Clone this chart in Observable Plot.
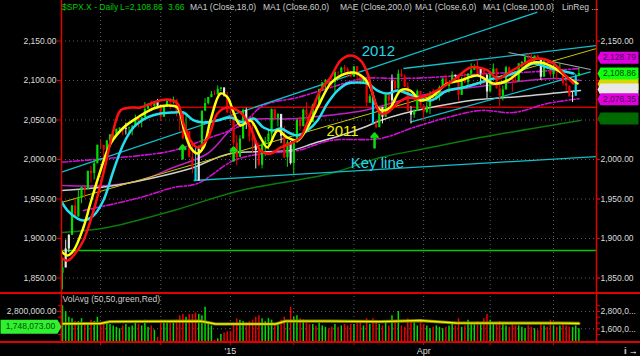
<!DOCTYPE html>
<html><head><meta charset="utf-8">
<script src="https://cdn.jsdelivr.net/npm/d3@7"></script>
<script src="https://cdn.jsdelivr.net/npm/@observablehq/plot@0.6"></script>
<style>
html,body{margin:0;padding:0;background:#000;}
#chart{position:relative;width:640px;height:356px;background:#000;overflow:hidden;font-family:"Liberation Sans",Arial,sans-serif;}
#price{position:absolute;left:0;top:0;}
#vol{position:absolute;left:0;top:292px;}
.hdr{position:absolute;top:2px;font-size:8.5px;line-height:10px;color:#cfcfcf;white-space:pre;}
.hline{position:absolute;left:0;width:640px;height:1.5px;background:#e00000;}
</style></head><body>
<div id="chart">
  <div id="price"></div>
  <div id="vol"></div>
  <div class="hline" style="top:292px"></div>
  <div class="hline" style="top:341px"></div>
  <div id="header"></div>
</div>
<script>
// ---------- DATA ----------
const firstOpen = 1855.95;
const close = [1862.76,1886.76,1904.01,1941.28,1927.11,1950.82,1964.58,1961.63,1985.05,1982.30,1994.65,2018.05,
2017.81,2012.10,2023.57,2031.21,2031.92,2038.26,2039.68,2038.25,2039.33,2039.82,2041.32,2051.80,2048.72,2052.75,2063.50,2069.41,2067.03,2072.83,2067.56,
2053.44,2066.55,2074.33,2071.92,2075.37,2060.31,2059.82,2026.14,2035.33,2002.33,1989.63,1972.74,2012.89,2061.23,2070.65,2078.54,2082.17,2081.88,2088.77,2090.57,2080.35,2058.90,
2058.20,2020.58,2002.61,2025.90,2062.14,2044.81,2028.26,2023.03,2011.27,1992.67,2019.42,2022.55,2032.12,2063.15,2051.82,2057.09,2029.55,2002.16,2021.25,1994.99,
2020.85,2050.03,2041.51,2062.52,2055.47,2046.74,2068.59,2068.53,2088.48,2096.99,2100.34,2099.68,2097.45,2110.30,2109.66,2115.48,2113.86,2110.74,2104.50,
2117.39,2107.78,2098.53,2101.04,2071.26,2079.43,2044.16,2040.24,2065.95,2053.40,2081.19,2074.28,2099.50,2089.27,2108.10,2104.42,2091.50,2061.05,2056.15,2061.02,2086.24,2067.89,
2059.69,2066.96,2080.62,2076.33,2081.90,2091.18,2102.06,2092.43,2095.84,2106.63,2104.99,2081.18,2100.40,2097.29,2107.96,2112.93,2117.69,2108.92,2114.76,2106.85,2085.51,
2108.29,2114.49,2089.46,2080.15,2088.00,2116.10,2105.33,2099.94,2098.48,2121.10,2122.73,2129.20,2127.83,2125.85,2130.82,2126.06,2104.20,2123.48,2120.79,2107.39,
2111.73,2109.60,2114.07,2095.84,2092.83,2079.28,2080.15,2105.20,2108.86];
const high = [1876,1898,1905,1942,1950,1961,1965,1964,1985,1991,1999,2018,
2025,2015,2024,2031,2034,2038,2040,2038,2046,2041,2043,2056,2052,2053,2072,2071,2074,2073,2076,
2067,2068,2076,2077,2079,2075,2061,2059,2056,2032,2018,2017,2017,2061,2077,2078,2086,2087,2093,2091,2088,2085,
2072,2055,2030,2030,2064,2065,2049,2056,2018,2021,2020,2028,2038,2064,2062,2058,2047,2042,2024,2023,
2022,2050,2054,2064,2072,2056,2070,2073,2089,2097,2101,2100,2102,2111,2111,2117,2119,2116,2112,
2117,2115,2107,2104,2100,2082,2076,2050,2066,2066,2081,2080,2107,2098,2113,2114,2107,2097,2067,2063,2088,2084,
2067,2072,2086,2089,2086,2093,2102,2107,2097,2111,2107,2095,2104,2109,2109,2121,2120,2126,2116,2114,2106,
2108,2121,2115,2098,2093,2118,2117,2106,2111,2121,2124,2131,2134,2134,2131,2132,2126,2126,2123,2121,
2120,2117,2121,2112,2101,2093,2085,2108,2115];
const low = [1835,1865,1882,1910,1927,1930,1944,1951,1964,1970,1974,2001,
2014,2001,2014,2015,2026,2030,2035,2030,2031,2034,2030,2041,2040,2040,2054,2064,2065,2066,2064,
2048,2054,2066,2063,2070,2054,2035,2025,2024,2002,1982,1972,1974,2018,2061,2069,2078,2081,2082,2086,2079,2058,
2046,2017,1992,2005,2026,2038,2022,2008,1988,1991,1988,2004,2012,2026,2050,2041,2020,2001,1990,1993,
1981,2022,2036,2043,2050,2041,2048,2058,2070,2086,2089,2092,2090,2085,2102,2105,2110,2103,2103,
2104,2098,2094,2096,2067,2072,2044,2039,2041,2045,2054,2065,2062,2086,2090,2104,2091,2061,2045,2052,2061,2067,
2048,2058,2057,2076,2075,2074,2091,2092,2084,2097,2101,2074,2083,2096,2091,2103,2113,2107,2094,2094,2077,
2087,2109,2089,2067,2074,2089,2105,2085,2096,2099,2115,2120,2125,2122,2120,2126,2100,2104,2113,2104,
2102,2099,2109,2093,2086,2079,2072,2081,2106];
// volume in millions
const volume = [3.2,2.8,2.4,2.3,2.1,2.1,2.3,1.9,2.0,2.2,2.1,2.4,
2.0,1.9,2.1,1.9,1.8,1.7,1.6,1.8,1.9,1.7,1.8,2.0,1.9,1.8,2.2,1.7,1.8,1.5,1.0,
2.2,2.0,2.1,2.0,2.1,2.2,2.5,2.6,2.4,2.6,2.6,2.7,2.6,2.5,3.1,2.0,1.8,0.8,0.9,1.2,1.3,1.4,
1.4,2.0,2.3,2.2,2.1,2.0,2.1,2.2,2.4,2.5,2.3,2.1,2.3,2.2,1.9,2.0,2.2,2.4,2.1,3.1,
2.4,2.5,2.3,2.2,2.0,1.9,1.9,1.8,2.0,1.8,1.7,1.6,1.7,1.9,1.7,1.8,1.9,1.8,1.9,
1.9,2.0,2.0,1.8,2.3,1.9,2.3,2.2,1.9,1.8,2.0,1.8,2.5,2.0,2.8,1.8,1.7,2.3,2.2,2.0,1.8,2.0,
1.9,1.8,1.6,1.7,1.8,1.7,1.6,1.7,1.8,1.9,1.8,2.3,1.7,1.8,2.2,2.0,1.9,2.1,2.0,2.3,2.6,
2.2,1.9,2.0,2.1,1.9,1.8,1.7,1.9,1.8,1.8,1.7,1.6,1.8,1.7,1.6,1.5,1.9,1.8,1.7,2.2,
1.8,1.7,1.8,2.0,1.8,1.7,1.7,1.8,1.6];
const volAvg = [[0,1.95],[12,1.97],[15,2.1],[43.6,2.13],[48.3,1.93],[67.3,1.93],[70.4,2.13],[84.6,2.13],[100.4,2.1],[113,2.17],[124.1,2.0],[157.2,1.99],[163,1.97]];
const whiteBars = [1,2,20,30,43,51,58,61,69,72,101,104,110,124,132,134,151,161];
const cyanBars = [42,98,162];

// indicator curves [bar index, price]
const redOsc = [[-0.6,1876],[1.6,1872],[3.5,1878.5],[6.6,1897.5],[9.8,1935.4],[12.9,1982.3],[15.8,2032.9],[18.3,2062],[21.5,2065.8],[24.6,2065.8],[28.7,2072.2],[33.1,2076],[36.3,2070.9],[38.2,2045.6],[40.4,2024.1],[42.6,2015.2],[45.8,2026.6],[48.9,2058.2],[52.1,2065.8],[56.2,2059.5],[59.3,2040.5],[62.5,2011.4],[65.7,2007.6],[68.8,2015.2],[72,2020.3],[75.1,2027.8],[78.3,2058.2],[81.4,2087.3],[84.6,2103.8],[87.8,2125.3],[90.9,2131.6],[94.1,2125.3],[96.3,2108.9],[98.2,2078.5],[100.4,2058.2],[102.6,2059.5],[105.7,2070.9],[108.9,2078.5],[112.1,2077.2],[116.2,2083.5],[119.3,2089.9],[124.1,2102.5],[128.8,2116.5],[134.2,2112.7],[137.3,2102.5],[140.5,2108.9],[143.6,2116.5],[147.7,2125.3],[150.9,2127.8],[155,2121.5],[158.1,2108.9],[161.3,2096.2]];
const yellowOsc = [[-0.6,1884.8],[1.6,1878.5],[3.5,1884.8],[6.6,1913.9],[8.8,1944.3],[12,1986.1],[15.2,2020.3],[19.3,2040.5],[23.7,2053.2],[28.7,2064.6],[33.1,2068.4],[36.3,2065.8],[38.2,2040.5],[40.4,2015.2],[42.6,2007.6],[44.5,2015.2],[46.7,2049.4],[49.9,2083.5],[52.1,2078.5],[54,2059.5],[56.2,2043],[59.3,2049.4],[62.5,2027.8],[64.7,2015.2],[67.9,2036.7],[71,2027.8],[74.2,2024.1],[77.3,2040.5],[80.5,2065.8],[84.6,2096.2],[87.8,2106.3],[91.9,2110.1],[95,2103.8],[97.2,2091.1],[99.4,2065.8],[101.3,2062],[103.5,2065.8],[106.7,2087.3],[109.8,2087.3],[113,2074.7],[116.2,2078.5],[121.5,2096.2],[125.6,2100],[131,2106.3],[136,2096.2],[140.5,2100],[143.6,2108.9],[147.7,2121.5],[150.9,2122.8],[155,2116.5],[159.4,2103.8],[162.6,2096.2]];
const cyanOsc = [[-0.6,1948.1],[1.6,1935.4],[4.7,1925.3],[6.6,1922.8],[9.8,1929.1],[12.9,1948.1],[16.1,1986.1],[19.3,2020.3],[22.4,2040.5],[26.8,2053.2],[30.9,2058.2],[35,2059.5],[38.2,2059.5],[41.4,2049.4],[44.5,2046.8],[48.9,2049.4],[53,2053.2],[57.1,2046.8],[60.3,2051.9],[63.4,2040.5],[66.6,2036.7],[68.8,2039.2],[72,2032.9],[74.2,2030.4],[77.3,2036.7],[80.5,2049.4],[83.6,2070.9],[86.8,2087.3],[90,2096.2],[93.1,2097.5],[96.3,2096.2],[99.4,2087.3],[102.6,2083.5],[105.7,2087.3],[108.9,2083.5],[112.1,2078.5],[116.2,2074.7],[121.5,2087.3],[126.6,2091.1],[131,2096.2],[136,2102.5],[140.5,2106.3],[144.6,2112.7],[148.7,2121.5],[153.1,2116.5],[157.2,2112.7],[161.3,2108.9]];
const ma200 = [[-0.3,1907.6],[14.2,1913.9],[35,1935.4],[56.2,1960.8],[84.6,1982.3],[100.4,2002.5],[116.2,2015.2],[131.9,2027.8],[163.5,2049.4]];
const envUpper = [[-0.3,1996.6],[14.2,2001.3],[24.6,2005.1],[35,2011.4],[45.8,2026.6],[56.2,2043],[63.4,2068.4],[74.2,2078.5],[84.6,2091.1],[95,2102.5],[105.7,2102.5],[116.2,2103.8],[134.2,2108.9],[144.6,2110.1],[163.5,2115.2]];
const envLower = [[6.6,1935.4],[24.6,1951.9],[35,1964.6],[42.6,1969.6],[54,1998.7],[63.4,2007.6],[74.2,2011.4],[84.6,2024.1],[100.4,2026.6],[110.8,2040.5],[121.5,2053.2],[131.9,2062],[142.4,2059.5],[153.1,2070.9],[163.5,2077.2]];
const ma60 = [[-0.3,1967.1],[14.2,1967.1],[24.6,1973.4],[35,1989.9],[45.8,2007.6],[56.2,2046.8],[74.2,2051.9],[95,2062],[113,2081],[134.2,2093.7],[155,2102.5],[163.5,2100]];
const ma100 = [[-0.3,1960.8],[14.2,1965.8],[27.8,1976],[40.4,1988.6],[53,2007.6],[72,2011.4],[79.2,2020.3],[87.8,2030.4],[95,2040.5],[100.4,2049.4],[107.6,2058.2],[116.2,2065.8],[128.8,2074.7],[144.6,2079.7],[163.5,2087.3]];

// straight drawn lines [i1, p1, i2, p2]
const trendCyan = [[-0.3,1983.9,149.9,2186.5],[107.6,2115.2,168.56,2144.3],[109.8,2047.2,166.7,2111],[41.4,1973.4,168.56,2003.8]];
const linReg = [[-0.3,1945.6,168.56,2140.5]];
const wedgeGray = [[140.8,2135.4,166.7,2113.9]];
const support = 1884.7;
const resistance = {level: 2066.2, start: 37};
const arrowsUp = [{i:37.9, tip:2017.7, base:2001.3},{i:54, tip:2015.2, base:1998.7},{i:98.5, tip:2032.9, base:2015.2}];
const notes = [{i:99.7, p:2136.7, t:"2012", c:"#22d8e8"},{i:88.4, p:2035.4, t:"2011", c:"#f0f000"},{i:99.4, p:1995, t:"Key line", c:"#22d8e8"}];

const priceTicks = [1850,1900,1950,2000,2050,2100,2150];
const rightLabelTicks = [1850,1900,1950,2000,2150];
const volTicks = [1.6, 2.8];
const volMinor = [1.2,1.6,2.0,2.4,2.8,3.2];
const monthStarts = [12,31,53,73,92,114,135,155];
const axisLabels = [{i:53, t:"'15"},{i:114, t:"Apr"}];
const tags = [
  {v:2052.0, label:"", fill:"#006a00", ink:"#003800"},
  {v:2095.6, label:"", fill:"#d8d800", ink:"#3a3a00"},
  {v:2088.6, label:"", fill:"#e8e8e8", ink:"#303030"},
  {v:2076.35, label:"2,076.35", fill:"#e000e0", ink:"#500050"},
  {v:2108.86, label:"2,108.86", fill:"#10ff10", ink:"#004400"},
  {v:2128.79, label:"2,128.79", fill:"#e000e0", ink:"#500050"}
];
const lastVol = {v:1.748073, label:"1,748,073.00"};
const headerItems = [
  {x:62, t:"$SPX.X - Daily", c:"#00cc00"},
  {x:120, t:"L=2,108.86", c:"#00cc00"},
  {x:168, t:"3.66", c:"#00cc00"},
  {x:190, t:"MA1 (Close,18,0)", c:"#cfcfcf"},
  {x:263, t:"MA1 (Close,60,0)", c:"#cfcfcf"},
  {x:340, t:"MAE (Close,200,0)", c:"#cfcfcf"},
  {x:415, t:"MA1 (Close,6,0)", c:"#cfcfcf"},
  {x:483, t:"MA1 (Close,100,0)", c:"#cfcfcf"},
  {x:562, t:"LinReg ...", c:"#cfcfcf"}
];

// ---------- CHART ----------
const FONT = '"Liberation Sans", Arial, sans-serif';
const RED = "#e00000";
const xDom = [-0.32, 168.56];
const pDom = [1831.65, 2201.27];
const vDom = [0.647, 4.119];
const fmt2 = d3.format(",.2f");

const bars = close.map((c, i) => {
  const o = i === 0 ? firstOpen : close[i - 1];
  const up = c >= o;
  return {i, o, c, h: Math.max(high[i], o, c), l: Math.min(low[i], o, c), v: volume[i],
    col: cyanBars.includes(i) ? "#00d8e8" : whiteBars.includes(i) ? "#e6e6e6" : (up ? "#00dd00" : "#ee0000"),
    vcol: up ? "#00dd00" : "#ee0000", base: vDom[0]};
});
const P = a => a.map(([i, p]) => ({i, p}));
const L = a => a.map(([i1, p1, i2, p2]) => ({i1, p1, i2, p2}));

const tagSym = {draw(ctx) { ctx.moveTo(-20, 0); ctx.lineTo(-17, -6); ctx.lineTo(21, -6); ctx.lineTo(21, 6); ctx.lineTo(-17, 6); ctx.closePath(); }};
const tagSymL = {draw(ctx) { ctx.moveTo(-30, -7); ctx.lineTo(27, -7); ctx.lineTo(31, 0); ctx.lineTo(27, 7); ctx.lineTo(-30, 7); ctx.closePath(); }};

const tagMarks = tags.flatMap(t => [
  Plot.dot([t], {x: () => xDom[1], y: "v", dx: 21, symbol: tagSym, fill: t.fill, stroke: "none", r: 5}),
  ...(t.label ? [Plot.text([t], {x: () => xDom[1], y: "v", dx: 23, text: "label", fill: t.ink, fontSize: 8.5, textAnchor: "middle"})] : [])
]);

const price = Plot.plot({
  width: 640, height: 292,
  marginLeft: 61, marginRight: 44, marginTop: 0, marginBottom: 0,
  style: {background: "transparent", color: "#dcdcdc", fontFamily: FONT, fontSize: "8.5px", overflow: "visible"},
  x: {domain: xDom, axis: null},
  y: {domain: pDom, axis: null},
  color: {type: "identity"},
  marks: [
    Plot.ruleY(priceTicks, {stroke: "#606060", strokeDasharray: "1,3"}),
    Plot.ruleX(monthStarts, {stroke: "#606060", strokeDasharray: "1,3"}),
    Plot.ruleY([support], {stroke: "#00cc00", strokeWidth: 1.5}),
    Plot.ruleY([resistance], {y: "level", x1: "start", x2: () => xDom[1], stroke: "#d00000", strokeWidth: 1.5}),
    Plot.line(P(ma200), {x: "i", y: "p", stroke: "#0a7a0a", strokeWidth: 1.5, curve: "catmull-rom", clip: true}),
    Plot.line(P(ma60), {x: "i", y: "p", stroke: "#c020c0", strokeWidth: 1.5, curve: "catmull-rom", clip: true}),
    Plot.line(P(ma100), {x: "i", y: "p", stroke: "#d0d0d0", strokeWidth: 1.5, curve: "catmull-rom", clip: true}),
    Plot.line(P(envUpper), {x: "i", y: "p", stroke: "#d010d0", strokeWidth: 1.6, strokeDasharray: "6,2,2,2", curve: "catmull-rom", clip: true}),
    Plot.line(P(envLower), {x: "i", y: "p", stroke: "#d010d0", strokeWidth: 1.6, strokeDasharray: "6,2,2,2", curve: "catmull-rom", clip: true}),
    Plot.link(L(linReg), {x1: "i1", y1: "p1", x2: "i2", y2: "p2", stroke: "#c8c800", strokeWidth: 1, clip: true}),
    Plot.link(L(trendCyan), {x1: "i1", y1: "p1", x2: "i2", y2: "p2", stroke: "#10c0cc", strokeWidth: 1.3, clip: true}),
    Plot.link(L(wedgeGray), {x1: "i1", y1: "p1", x2: "i2", y2: "p2", stroke: "#a8a8a8", strokeWidth: 1.2, clip: true}),
    Plot.ruleX(bars, {x: "i", y1: "l", y2: "h", stroke: "col", strokeWidth: 1, clip: true}),
    Plot.ruleX(bars, {x: "i", y1: "o", y2: "c", stroke: "col", strokeWidth: 2.2, clip: true}),
    Plot.line(P(cyanOsc), {x: "i", y: "p", stroke: "#22e0f0", strokeWidth: 2.5, curve: "catmull-rom", clip: true}),
    Plot.line(P(yellowOsc), {x: "i", y: "p", stroke: "#ffff10", strokeWidth: 2.5, curve: "catmull-rom", clip: true}),
    Plot.line(P(redOsc), {x: "i", y: "p", stroke: "#ff1010", strokeWidth: 2.5, curve: "catmull-rom", clip: true}),
    Plot.arrow(arrowsUp, {x: "i", y1: "base", y2: "tip", stroke: "#10dd10", strokeWidth: 2.5, headLength: 6, headAngle: 80}),
    Plot.text(notes, {x: "i", y: "p", text: "t", fill: "c", fontSize: 15, fontFamily: FONT}),
    Plot.axisY(priceTicks, {anchor: "left", tickFormat: fmt2, tickSize: 4, tickPadding: 1, stroke: RED, fill: "#dcdcdc", fontSize: 8.5}),
    Plot.axisY(priceTicks, {anchor: "right", tickSize: 3, stroke: RED, tickFormat: () => ""}),
    Plot.axisY(rightLabelTicks, {anchor: "right", tickFormat: fmt2, tickSize: 3, tickPadding: 1, stroke: RED, fill: "#dcdcdc", fontSize: 8.5}),
    Plot.ruleX([xDom[0]], {stroke: RED, strokeWidth: 1.5}),
    Plot.ruleX([xDom[1]], {stroke: RED, strokeWidth: 1.5}),
    ...tagMarks
  ]
});
document.getElementById("price").appendChild(price);

const vol = Plot.plot({
  width: 640, height: 64,
  marginLeft: 61, marginRight: 44, marginTop: 0, marginBottom: 14,
  style: {background: "transparent", color: "#dcdcdc", fontFamily: FONT, fontSize: "8.5px", overflow: "visible"},
  x: {domain: xDom, axis: null},
  y: {domain: vDom, axis: null},
  color: {type: "identity"},
  marks: [
    Plot.ruleY(volTicks, {stroke: "#606060", strokeDasharray: "1,3"}),
    Plot.ruleX(monthStarts, {stroke: "#606060", strokeDasharray: "1,3"}),
    Plot.ruleX(bars, {x: "i", y1: "base", y2: "v", stroke: "vcol", strokeWidth: 1.5}),
    Plot.line(volAvg.map(([i, v]) => ({i, v})), {x: "i", y: "v", stroke: "#808000", strokeWidth: 3.2}),
    Plot.line(volAvg.map(([i, v]) => ({i, v})), {x: "i", y: "v", stroke: "#f0f000", strokeWidth: 1.4}),
    Plot.text(["VolAvg (50,50,green,Red)"], {frameAnchor: "top-left", dx: 1, dy: 3, fill: "#cfcfcf", fontSize: 8.5}),
    Plot.axisY(volMinor, {anchor: "left", tickSize: 3, stroke: RED, tickFormat: () => ""}),
    Plot.axisY(volMinor, {anchor: "right", tickSize: 3, stroke: RED, tickFormat: () => ""}),
    Plot.axisY([2.8], {anchor: "left", tickSize: 4, tickPadding: 1, stroke: RED, fill: "#dcdcdc", fontSize: 8.5, tickFormat: v => fmt2(v * 1e6)}),
    Plot.axisY(volTicks, {anchor: "right", tickSize: 3, tickPadding: 1, stroke: RED, fill: "#dcdcdc", fontSize: 8.5, tickFormat: v => fmt2(v * 1e6).slice(0, 7) + "..."}),
    Plot.axisX(monthStarts, {anchor: "bottom", tickSize: 3, stroke: RED, tickFormat: () => ""}),
    Plot.axisX(axisLabels.map(d => d.i), {anchor: "bottom", tickSize: 0, tickPadding: 5, fill: "#dcdcdc", fontSize: 9,
      tickFormat: i => axisLabels.find(d => d.i === i).t}),
    Plot.ruleX([xDom[0]], {stroke: RED, strokeWidth: 1.5}),
    Plot.ruleX([xDom[1]], {stroke: RED, strokeWidth: 1.5}),
    Plot.dot([lastVol], {x: () => xDom[0], y: "v", dx: -31, symbol: tagSymL, fill: "#30f030", stroke: "none", r: 5}),
    Plot.text([lastVol], {x: () => xDom[0], y: "v", dx: -31, text: "label", fill: "#005000", fontSize: 8.5, textAnchor: "middle"})
  ]
});
document.getElementById("vol").appendChild(vol);

const hdr = document.getElementById("header");
headerItems.forEach(h => {
  const s = document.createElement("div");
  s.className = "hdr"; s.style.left = h.x + "px"; s.style.color = h.c; s.textContent = h.t;
  hdr.appendChild(s);
});
</script>
</body></html>
